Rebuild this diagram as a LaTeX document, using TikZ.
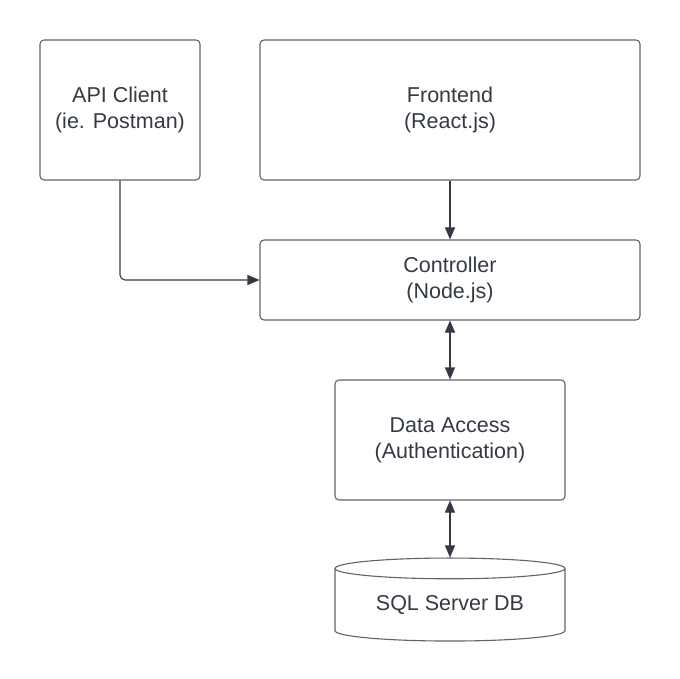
\documentclass[tikz,border=0pt]{standalone}
\usepackage{fontspec}
\setmainfont{Liberation Sans}
\usetikzlibrary{arrows.meta,shapes.geometric}

\definecolor{edge}{HTML}{5F636B}
\definecolor{ink}{HTML}{343A44}

\begin{document}
\begin{tikzpicture}[
  x=1pt, y=-1pt,
  box/.style={draw=edge, line width=1.1pt, rounded corners=4pt, align=center,
    text=ink, font=\fontsize{21.5}{26}\selectfont, inner sep=0pt},
  link/.style={draw=ink, line width=1.1pt, -{Triangle[length=12pt,width=10pt]}},
  twoway/.style={link, {Triangle[length=12pt,width=10pt]}-{Triangle[length=12pt,width=10pt]}},
]
\useasboundingbox (0,0) rectangle (680,679);
\node[box, minimum width=160pt, minimum height=140pt] (client) at (120,110) {API Client\\(ie. Postman)};
\node[box, minimum width=380pt, minimum height=140pt] (front) at (450,110) {Frontend\\(React.js)};
\node[box, minimum width=380pt, minimum height=80pt] (ctrl) at (450,280) {Controller\\(Node.js)};
\node[box, minimum width=230pt, minimum height=120pt] (data) at (450,440) {Data Access\\(Authentication)};
\node[box, rounded corners=0pt, cylinder, shape border rotate=90, aspect=0.14,
  minimum width=230pt, minimum height=83pt] (db) at (450,605) {SQL Server DB};

% connectors
\draw[link] (front) -- (ctrl);
\draw[link, rounded corners=5pt] (client.south) |- (ctrl.west);
\draw[twoway] (ctrl) -- (data);
\draw[twoway] (data) -- (db.north);
\end{tikzpicture}
\end{document}
